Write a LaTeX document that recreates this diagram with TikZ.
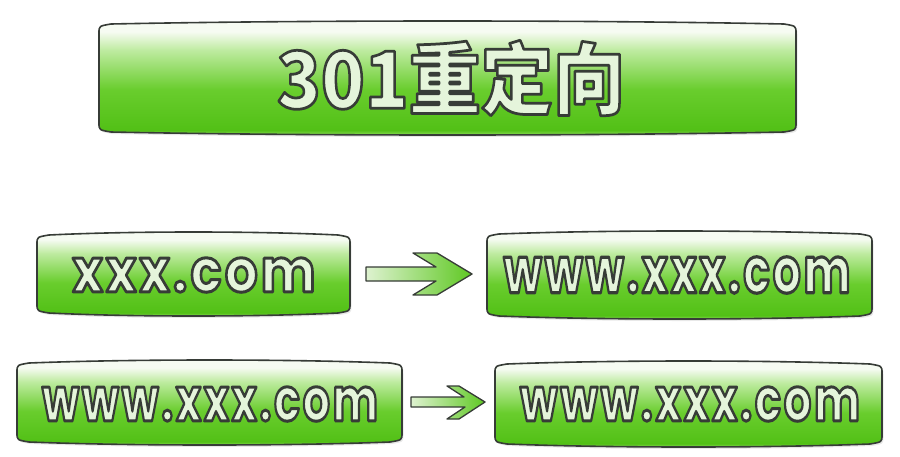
\documentclass[tikz,border=0pt]{standalone}
\usepackage{fontspec}
\usepackage{graphicx}
\usetikzlibrary{shadows}
\newfontfamily\latinf{Poppins}[LetterSpace=6]
\newfontfamily\cjk{Noto Sans CJK SC}
\definecolor{gHi}{RGB}{150,225,100}
\definecolor{gBot}{RGB}{82,192,22}
\definecolor{gMid}{RGB}{105,205,45}
\definecolor{gUp}{RGB}{190,235,160}
\definecolor{gTop}{RGB}{246,251,242}
\definecolor{edge}{RGB}{55,60,55}
\definecolor{txtfill}{RGB}{232,246,222}
\definecolor{arL}{RGB}{222,242,208}
\definecolor{arR}{RGB}{95,200,35}
\pgfdeclareverticalshading{glass}{100bp}{color(0bp)=(gHi); color(25bp)=(gHi); color(27.5bp)=(gBot); color(45bp)=(gMid); color(62bp)=(gUp); color(70bp)=(gTop); color(75bp)=(gTop); color(100bp)=(gTop)}
\newcommand\otext[4]{\resizebox{#1}{#2}{{\color{txtfill}\special{pdf:literal q 2 Tr 1 j #3 w 0.216 0.235 0.216 RG 0.90 0.96 0.86 rg}#4\special{pdf:literal Q}}}}
\newcommand\glassbox[4]{%
 \pgfmathsetmacro\ga{#1+12}\pgfmathsetmacro\gb{#3-12}%
 \pgfmathsetmacro\gc{#1+0.3*(#3-#1)}\pgfmathsetmacro\gd{#3-0.3*(#3-#1)}%
 \path[gbox] (#1,#4-12) -- (#1,#2+12) .. controls (#1,#2+5) .. (\ga,#2+3)
   .. controls (\gc,#2-1) and (\gd,#2-1) .. (\gb,#2+3)
   .. controls (#3,#2+5) .. (#3,#2+12) -- (#3,#4-12)
   .. controls (#3,#4-5) .. (\gb,#4-3)
   .. controls (\gd,#4+1) and (\gc,#4+1) .. (\ga,#4-3)
   .. controls (#1,#4-5) .. (#1,#4-12) -- cycle;}
\tikzset{
  gbox/.style={shading=glass, draw=edge, line width=1.6pt, line join=round,
    drop shadow={opacity=0.18, shadow xshift=1.5pt, shadow yshift=-2pt}},
  lbl/.style={inner sep=0pt, anchor=center},
  garrow/.style={left color=arL, right color=arR, draw=edge, line width=1.3pt, line join=round}
}
\begin{document}
\begin{tikzpicture}[x=1pt,y=-1pt]
\useasboundingbox[fill=white] (0,0) rectangle (900,456);
% title
\glassbox{99}{21}{796}{135}
\node[lbl] (title) at (451,78) {\otext{348pt}{68pt}{0.35}{\cjk\bfseries 301重定向}};
% row 1
\glassbox{37}{232}{350}{316}
\node[lbl] (t1) at (194,275) {\otext{243pt}{34pt}{0.5}{\latinf\bfseries xxx.com}};
\glassbox{487}{231}{872}{319}
\node[lbl] (t2) at (677,275) {\otext{347pt}{36pt}{0.5}{\latinf\bfseries www.xxx.com}};
% row 2
\glassbox{17}{360}{402}{445}
\node[lbl] (t3) at (210,404) {\otext{336pt}{34pt}{0.5}{\latinf\bfseries www.xxx.com}};
\glassbox{495}{361}{882}{447}
\node[lbl] (t4) at (690,404) {\otext{340pt}{34pt}{0.5}{\latinf\bfseries www.xxx.com}};
% arrows
\path[garrow] (366,267) -- (436,267) -- (413,253) -- (437,253) -- (472,274)
  -- (437,295) -- (413,295) -- (436,281) -- (366,281) -- cycle;
\path[garrow] (411,397) -- (464,397) -- (447,386) -- (459,386) -- (485,402)
  -- (459,419) -- (447,419) -- (465,407) -- (411,407) -- cycle;
\end{tikzpicture}
\end{document}
